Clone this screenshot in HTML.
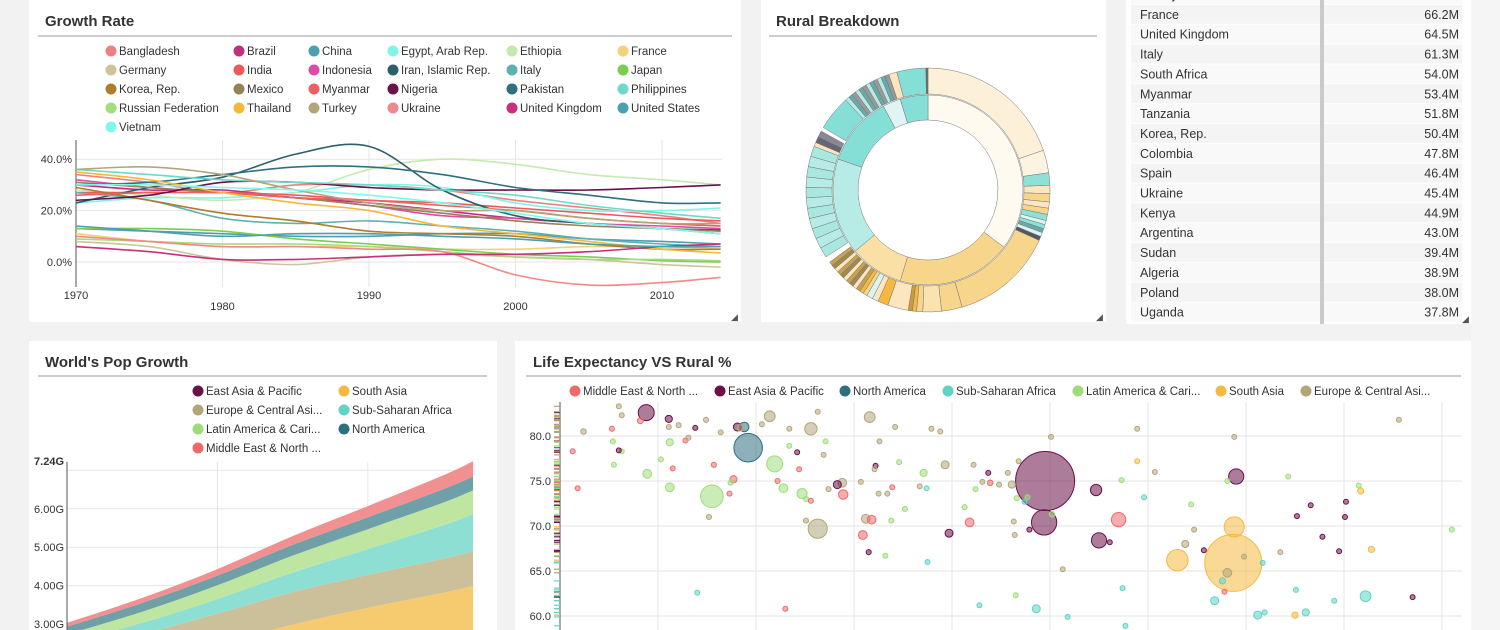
<!DOCTYPE html>
<html><head><meta charset="utf-8">
<style>
html,body{margin:0;padding:0;background:#f2f2f2;overflow:hidden;width:1500px;height:630px;}
svg{display:block;font-family:"Liberation Sans",sans-serif;}
.title{font-size:15px;font-weight:bold;fill:#333;}
.lg{font-size:11.5px;fill:#333;}
.tk{font-size:11px;fill:#333;}
.tb{font-size:12.5px;fill:#333;}
</style></head>
<body>
<svg id="root" width="1500" height="630" viewBox="0 0 1500 630">
  <rect x="1471" y="0" width="29" height="630" fill="#f5f5f5"/>
  <rect x="29" y="0" width="712" height="322" fill="#fff"/>
  <rect x="761" y="0" width="345" height="322" fill="#fff"/>
  <rect x="1126" y="0" width="345" height="324" fill="#fff"/>
  <rect x="29" y="341" width="468" height="289" fill="#fff"/>
  <rect x="515" y="341" width="956" height="289" fill="#fff"/>

  <text x="45" y="26" class="title">Growth Rate</text>
  <rect x="38" y="35" width="694" height="2" fill="#ccc"/>
  <text x="776" y="26" class="title">Rural Breakdown</text>
  <rect x="769" y="35" width="328" height="2" fill="#ccc"/>
  <text x="45" y="367" class="title">World's Pop Growth</text>
  <rect x="38" y="375" width="449" height="2" fill="#ccc"/>
  <text x="533" y="367" class="title">Life Expectancy VS Rural %</text>
  <rect x="526" y="375" width="935" height="2" fill="#ccc"/>

  <text x="731" y="320" font-size="9" fill="#555">◢</text>
  <text x="1096" y="320" font-size="9" fill="#555">◢</text>
  <text x="1462" y="322" font-size="9" fill="#555">◢</text>

  <g id="growth"></g>
  <g id="donut"></g>
  <g id="table"></g>
  <g id="area"></g>
  <g id="scatter"></g>
  <defs>
    <clipPath id="gclip"><rect x="76" y="130" width="647" height="180"/></clipPath>
    <clipPath id="aclip"><rect x="67" y="455" width="410" height="175"/></clipPath>
    <clipPath id="sclip"><rect x="560" y="398" width="902" height="232"/></clipPath>
  </defs>
</svg>
<script>
// ---------- Growth Rate data ----------
const gYears=[1970,1975,1980,1985,1990,1995,2000,2005,2010,2014];
const gCountries=["Bangladesh","Brazil","China","Egypt, Arab Rep.","Ethiopia","France","Germany","India","Indonesia","Iran, Islamic Rep.","Italy","Japan","Korea, Rep.","Mexico","Myanmar","Nigeria","Pakistan","Philippines","Russian Federation","Thailand","Turkey","Ukraine","United Kingdom","United States","Vietnam"];
const gColors=["#f08080","#c0307e","#4a9fb0","#7ff5e8","#c4eab0","#f5cf7a","#cfc39a","#ec5a5a","#e04ba8","#2d5f6a","#5fb1b0","#7ccc50","#b07c30","#968158","#ee6060","#6b1048","#2f7080","#6fd8c8","#a3dc7d","#f5b83a","#b3a57a","#f08a8a","#c8307c","#4a9fb0","#7ff8ec"];
const gValues=[
 [34,31,27,30,30,28,24,21,18,15],
 [30,28,28,25,23,20,17,15,13,11],
 [13,12,11,10,10,11,11,9,8,7],
 [23,25,25,27,30,29,23,20,20,21],
 [28,26,24,27,36,40,38,34,32,30],
 [11,8,6,6,6,5,5,6,6,5],
 [8,6,1,-1,2,3,2,1,-1,-2],
 [27,27,27,26,24,23,21,19,17,16],
 [32,29,27,25,22,18,17,15,14,13],
 [23,29,33,42,45,28,18,15,13,12.5],
 [27,24,17,15,16,14,12,9,7,6],
 [13,13,12,9,7,5,3,2,0.5,0],
 [29,24,19,16,12,11,10,7,5,5],
 [31,29,27,25,22,19,16,14,13,12],
 [26,27,27,25,24,22,20,17,15,14],
 [24,26,31,31,29,28,28,28,29,30],
 [30,31,34,37,37,34,29,26,23,23],
 [36,34,32,31,30,28,26,22,19,17],
 [9,8,7,7,6,4,2,1,1,0.5],
 [35,32,27,23,20,14,11,8,5,3.5],
 [36,37,34,28,23,20,20,17,15,15],
 [10,8,6,6,5,4,-5,-9,-8,-6],
 [6,4,1,1,2,3,3,4,6,7],
 [14,12,10,11,11,10,9,7,6,6],
 [30,30,29,28,26,23,19,15,13,11]];
const gYTicks=[0,20,40];
const gXTicks=[1970,1980,1990,2000,2010];

// ---------- Donut data ----------
const innerDeg=[127,70,33,59,43,11,17];
const innerCol=["#fffaf0","#f7d58a","#fbe0a6","#b7ece6","#86dfd6","#e0f5f3","#86dfd6"];
const outerDeg=[72,11,6,4,4,3,3,3,2,2,2,2,2,50,10,9,3,2,2,10,5,3,3,2,2,2,2,2,2,2,2,2,2,2,2,3,5,5,5,5,5,5,5,5,5,5,5,2,3,3,2,17,2,2,2,2,2,2,2,2,2,2,2,2,4,14,1];
const outerCol=["#fdf0d8","#fdf3e1","#8fe0d7","#fbe6bf","#f7d58a","#fbe6bf","#f7d58a","#8fe0d7","#d9f5f2","#8fe0d7","#66aaaa","#d9f5f2","#555566","#f7d58a","#f7d58a","#fbe3b0","#f7d58a","#f5b942","#c89a40","#fbe6bf","#f5b942","#fbe6bf","#d9f5f2","#f7d58a","#f5b942","#c8a050","#fbe6bf","#a08850","#c8a050","#fbe6bf","#a08850","#c8a050","#fbe6bf","#a08850","#c8a050",null,"#a9e8e1","#b7ece6","#a9e8e1","#b7ece6","#a9e8e1","#b7ece6","#a9e8e1","#b7ece6","#a9e8e1","#b7ece6","#a9e8e1","#fbe6bf","#666677","#888899",null,"#86dfd6","#b7ece6","#66aaaa","#999999","#b7ece6","#66aaaa","#999999","#b7ece6","#66aaaa","#999999","#b7ece6","#66aaaa","#999999","#fbe6bf","#86dfd6","#666666"];

// ---------- Table data ----------
const tNames=["Turkey","France","United Kingdom","Italy","South Africa","Myanmar","Tanzania","Korea, Rep.","Colombia","Spain","Ukraine","Kenya","Argentina","Sudan","Algeria","Poland","Uganda"];
const tValues=["75.9M","66.2M","64.5M","61.3M","54.0M","53.4M","51.8M","50.4M","47.8M","46.4M","45.4M","44.9M","43.0M","39.4M","38.9M","38.0M","37.8M"];

// ---------- Area data ----------
const aYears=[1960,1970,1980,1990,2000,2010,2014];
const aRegions=["East Asia & Pacific","South Asia","Europe & Central Asi...","Sub-Saharan Africa","Latin America & Cari...","North America","Middle East & North ..."];
const aEAP=[1.04,1.29,1.57,1.85,2.03,2.19,2.27];
const aSA=[0.57,0.71,0.90,1.13,1.39,1.62,1.72];
const aECA=[0.67,0.74,0.80,0.85,0.86,0.89,0.90];
const aSSA=[0.23,0.29,0.38,0.51,0.67,0.87,0.97];
const aLAC=[0.22,0.29,0.36,0.44,0.52,0.59,0.62];
const aNA=[0.20,0.23,0.25,0.28,0.31,0.35,0.36];
const aMENA=[0.10,0.13,0.17,0.23,0.29,0.36,0.40];
const aYTicks=[3,4,5,6];

// ---------- Scatter data ----------
const sRegions=["Middle East & North ...","East Asia & Pacific","North America","Sub-Saharan Africa","Latin America & Cari...","South Asia","Europe & Central Asi..."];
const sRegionCodes=["MENA","EAP","NA","SSA","LAC","SA","ECA"];
const sRegion=["EAP","MENA","MENA","MENA","MENA","LAC","LAC","EAP","LAC","ECA","ECA","ECA","LAC","LAC","LAC","EAP","ECA","ECA","MENA","ECA","EAP","ECA","ECA","LAC","MENA","MENA","LAC","ECA","LAC","MENA","MENA","EAP","NA","ECA","NA","LAC","MENA","LAC","ECA","ECA","ECA","LAC","EAP","MENA","LAC","LAC","MENA","ECA","ECA","LAC","ECA","ECA","ECA","EAP","ECA","ECA","MENA","ECA","ECA","ECA","LAC","EAP","ECA","ECA","MENA","ECA","ECA","LAC","ECA","MENA","MENA","EAP","LAC","LAC","SSA","SSA","MENA","ECA","ECA","LAC","ECA","SSA","ECA","EAP","MENA","LAC","LAC","ECA","EAP","ECA","MENA","ECA","ECA","ECA","LAC","SSA","LAC","ECA","ECA","ECA","EAP","EAP","EAP","LAC","ECA","LAC","SSA","SSA","ECA","EAP","MENA","EAP","EAP","SSA","SSA","LAC","ECA","SSA","SA","ECA","LAC","ECA","ECA","SA","EAP","SA","SA","EAP","ECA","SSA","MENA","SSA","ECA","SSA","LAC","ECA","SSA","SSA","SA","SSA","SSA","ECA","EAP","EAP","EAP","EAP","EAP","EAP","SA","LAC","SA","SSA","SSA","EAP","ECA","LAC","LAC","SSA"];
const sRural=[8.8,8.2,5.3,1.3,1.8,5.5,5.4,6,6.3,2.4,6,6.3,8.9,11.2,11.2,11.1,11.1,12.1,12.8,13.1,13.8,14.9,16.4,10.3,11.5,15.7,15.5,15.2,17.4,17.3,17.7,18.1,18.8,18.4,19.2,21.9,22.2,22.8,21.4,20.6,23.4,23.4,24.2,24.4,24.7,25.1,25.6,25.6,26.3,27.1,26.9,26.3,25.1,28.3,28.8,27.4,28.9,31.6,34.2,32.6,34.6,32.2,32.1,30.7,33.9,32.5,33.4,35.2,31.2,31.8,30.9,31.5,33.2,33.8,37.5,14,23,37.9,38.8,37.1,39.3,37.4,36.7,39.7,41.8,41.3,42.4,42.2,43.7,43.1,43.9,44.8,45.7,46.1,46.6,47.4,47.7,46.8,46.3,46.4,47.9,49.5,49.4,50.2,50.1,46.5,48.6,51.8,51.3,54.7,57,55,56.1,57.4,57.7,57.3,60.7,59.6,58.9,58.9,64.4,64.7,63.8,63,65.7,68.7,68.8,69,68.1,67.6,67.8,66.8,69.8,71.7,68.1,68.8,71.2,71.9,75,76.1,75.1,73.5,77.8,75.2,76.6,80.2,80.1,79.5,81.7,81.5,82.8,82.2,79,87,85.6,91,74.3,42.8];
const sLife=[82.6,81.7,80.8,78.3,74.2,76.8,79.4,78.4,78.3,80.5,83.3,82.3,75.8,74.3,79.3,81.9,81,81.2,79.5,79.8,80.9,81.8,80.4,77.4,76.4,76.8,73.3,71,74.8,73.6,75.2,81,81,80.9,78.7,76.9,75,74.2,82.2,81.3,80.8,78.9,78.2,76.3,73.6,73,72.8,80.8,82.7,79.4,77.9,69.7,70.6,74.6,74.8,74.1,73.5,82.1,81,79.4,77.1,76.7,76.3,74.9,74.3,73.6,73.6,71.9,70.8,70.7,69,67.1,66.7,70.6,66,62.6,60.8,80.8,80.5,75.9,76.8,74.2,74.4,69.2,70.4,72.1,74.1,76.8,75.9,74.9,74.8,74.6,75.9,74.6,73.1,72.7,73.2,77.2,70.5,69,69.6,75,70.4,71.3,79.9,62.3,60.8,59.9,65.2,74,70.7,68.4,68.2,63.1,58.9,75.1,76,73.2,77.2,80.8,72.4,69.6,68,66.2,67.3,65.9,69.9,75.5,64.8,63.9,62.7,61.7,66.6,65.9,75,79.9,60.1,60.4,60.1,60.4,62.9,67.1,68.8,71.1,72.3,72.7,71,67.2,73.9,74.5,67.4,62.2,61.7,62.1,81.8,69.6,75.5,61.2];
const sPop=[100,14,6,6,6,5,2,2,3,12,1,1,30,30,20,20,1,10,4,4,4,10,5,1,3,10,200,1,2,8,20,25,35,15,318,100,5,30,45,2,8,8,1,4,40,8,2,60,6,3,6,143,6,25,30,4,35,45,5,2,3,1,1,4,8,2,2,4,30,30,30,2,5,1,1,2,2,2,5,20,25,1,2,25,30,6,2,3,1,2,12,3,3,20,3,2,6,2,8,8,2,1360,250,12,1,8,25,6,4,50,80,90,1,6,5,1,3,3,1,1,1,5,20,180,5,1270,158,90,30,15,8,25,2,1,1,1,25,2,15,20,6,6,1,1,1,1,8,1,15,1,15,45,2,2,1,1,1,3];
const sYTicks=[60,65,70,75,80];
const sXGrid=[10,20,30,40,50,60,70,80,90];

const NS='http://www.w3.org/2000/svg';
function mk(tag,attrs,parent){const e=document.createElementNS(NS,tag);for(const k in attrs)e.setAttribute(k,attrs[k]);parent.appendChild(e);return e;}
function smooth(pts){let d='M'+pts[0][0].toFixed(1)+','+pts[0][1].toFixed(1);
 for(let i=0;i<pts.length-1;i++){const p0=pts[Math.max(0,i-1)],p1=pts[i],p2=pts[i+1],p3=pts[Math.min(pts.length-1,i+2)];
  const c1=[p1[0]+(p2[0]-p0[0])/6,p1[1]+(p2[1]-p0[1])/6],c2=[p2[0]-(p3[0]-p1[0])/6,p2[1]-(p3[1]-p1[1])/6];
  d+='C'+c1.map(v=>v.toFixed(1))+' '+c2.map(v=>v.toFixed(1))+' '+p2.map(v=>v.toFixed(1));}
 return d;}

// ===== Growth rate chart =====
(function(){
 const g=document.getElementById('growth');
 const gx=y=>76+(y-1970)*14.65, gy=v=>262-v*2.57;
 gCountries.forEach((c,i)=>{const col=i%6,row=Math.floor(i/6);const x=[111,239,314,393,512,623][col],y=51+row*19;
  const it=mk('g',{},g);
  
  
  mk('circle',{cx:x,cy:y,r:5.5,fill:gColors[i]},it);
  const t=mk('text',{x:x+8,y:y+4,class:'lg'},it);t.textContent=c;});
 gXTicks.forEach((yr,i)=>{const x=gx(yr);
  const l=mk('line',{x1:x,x2:x,y1:140,y2:287,stroke:'#e6e6e6'},g);
  
  const t=mk('text',{x:x,y:i%2?310:299,'text-anchor':'middle',class:'tk'},g);t.textContent=yr;
  });
 gYTicks.forEach(v=>{const y=gy(v);
  const l=mk('line',{x1:76,x2:722,y1:y,y2:y,stroke:'#e6e6e6'},g);
  
  const t=mk('text',{x:72,y:y+4,'text-anchor':'end',class:'tk'},g);t.textContent=v.toFixed(1)+'%';
  });
 const ax=mk('line',{x1:76,x2:76,y1:140,y2:287,stroke:'#555'},g);
 
 const lg=mk('g',{'clip-path':'url(#gclip)'},g);
 gValues.forEach((vals,i)=>{const p=mk('path',{d:smooth(vals.map((v,j)=>[gx(gYears[j]),gy(v)])),fill:'none',stroke:gColors[i],'stroke-width':1.6},lg);
  
  });
})();

// ===== Donut =====
(function(){
 const g=document.getElementById('donut');const cx=928,cy=190;
 function arc(r0,r1,a0,a1){const rad=a=>(a-90)*Math.PI/180;const p=(r,a)=>[cx+r*Math.cos(rad(a)),cy+r*Math.sin(rad(a))];
  const L=(a1-a0)>180?1:0;const A=p(r1,a0),B=p(r1,a1),C=p(r0,a1),D=p(r0,a0);
  return `M${A}A${r1},${r1} 0 ${L} 1 ${B}L${C}A${r0},${r0} 0 ${L} 0 ${D}Z`;}
 function ring(degs,cols,r0,r1,name){const tot=degs.reduce((a,b)=>a+b,0);let a=0;
  degs.forEach((d,i)=>{const s=d*360/tot;if(cols[i]){const p=mk('path',{d:arc(r0,r1,a,a+s),fill:cols[i],stroke:'#777','stroke-width':0.5},g);
   }a+=s;});}
 ring(innerDeg,innerCol,70,95,'inner-ring');
 ring(outerDeg,outerCol,96,122,'outer-ring');
})();

// ===== Table =====
(function(){
 const g=document.getElementById('table');
 tNames.forEach((n,i)=>{const top=-15+i*19.85;
  const r=mk('g',{},g);
  
  
  mk('rect',{x:1131,y:top,width:331,height:19,fill:i%2?'#f4f4f4':'#f9f9f9'},r);
  const t=mk('text',{x:1140,y:top+14,class:'tb'},r);t.textContent=n;
  const v=mk('text',{x:1459,y:top+14,class:'tb','text-anchor':'end'},r);v.textContent=tValues[i];});
 const d=mk('rect',{x:1320,y:0,width:4,height:324,fill:'#cacaca'},g);
 
})();

// ===== Area chart =====
(function(){
 const g=document.getElementById('area');
 const ax=y=>67+(y-1960)*7.52, ay=v=>624-(v-3)*38.4;
 const legX=[198,344];
 const legCols=["#6b1048","#f5b942","#b3a57a","#5fd3c6","#9edc7a","#2f7080","#ee6a6a"];
 const order=[0,1,2,3,4,5,6];
 order.forEach((k,i)=>{const x=legX[i%2],y=391+Math.floor(i/2)*19;
  const it=mk('g',{},g);
  
  mk('circle',{cx:x,cy:y,r:5.5,fill:legCols[k]},it);
  const t=mk('text',{x:x+8,y:y+4,class:'lg'},it);t.textContent=aRegions[k];});
 [1980,2000].forEach(yr=>{const l=mk('line',{x1:ax(yr),x2:ax(yr),y1:462,y2:630,stroke:'#e6e6e6'},g);
  });
 aYTicks.concat([7]).forEach(v=>{const l=mk('line',{x1:67,x2:473,y1:ay(v),y2:ay(v),stroke:'#e6e6e6'},g);
  });
 aYTicks.forEach(v=>{const t=mk('text',{x:64,y:ay(v)+4,'text-anchor':'end',class:'tk'},g);t.textContent=v.toFixed(2)+'G';
  });
 const series=[aEAP,aSA,aECA,aSSA,aLAC,aNA,aMENA];
 const fills=["#a86a8e","#f6cb70","#ccc09a","#8ddfd4","#bfe6a0","#6fa0a8","#f09090"];
 const total=aYears.map((_,j)=>series.reduce((s,a)=>s+a[j],0));
 const top=mk('text',{x:64,y:ay(total[total.length-1])+4,'text-anchor':'end',class:'tk','font-weight':'bold'},g);
 top.textContent=total[total.length-1].toFixed(2)+'G';
 
 const cg=mk('g',{'clip-path':'url(#aclip)'},g);
 let base=aYears.map(()=>0);
 series.forEach((s,i)=>{const up=base.map((b,j)=>b+s[j]);
  const upPts=aYears.map((y,j)=>[ax(y),ay(up[j])]);const loPts=aYears.map((y,j)=>[ax(y),ay(base[j])]).reverse();
  const d=smooth(upPts)+'L'+smooth(loPts).slice(1)+'Z';
  const p=mk('path',{d:d,fill:fills[i]},cg);
  
  
  base=up;});
 const yl=mk('line',{x1:67,x2:67,y1:462,y2:630,stroke:'#555'},g);
 
})();

// ===== Scatter =====
(function(){
 const g=document.getElementById('scatter');
 const sx=v=>560+v*9.8, sy=v=>436-(v-80)*9;
 const col={MENA:"#ee6a6a",EAP:"#6b1048",NA:"#2f7080",SSA:"#5fd3c6",LAC:"#9edc7a",SA:"#f5b942",ECA:"#b3a57a"};
 const legX=[575,720,845,948,1078,1221,1306];
 sRegions.forEach((r,i)=>{const it=mk('g',{},g);
  
  mk('circle',{cx:legX[i],cy:391,r:5.5,fill:col[sRegionCodes[i]]},it);
  const t=mk('text',{x:legX[i]+8,y:395,class:'lg'},it);t.textContent=r;});
 sXGrid.forEach(v=>{const l=mk('line',{x1:sx(v),x2:sx(v),y1:402,y2:630,stroke:'#e6e6e6'},g);
  });
 sYTicks.forEach(v=>{const l=mk('line',{x1:560,x2:1462,y1:sy(v),y2:sy(v),stroke:'#e3e3e3'},g);
  
  const t=mk('text',{x:551,y:sy(v)+4,'text-anchor':'end',class:'tk'},g);t.textContent=v.toFixed(1);
  });
 const yl=mk('line',{x1:560,x2:560,y1:402,y2:630,stroke:'#555'},g);
 
 sLife.forEach((v,i)=>{const y=sy(v);if(y<402)return;
  const l=mk('line',{x1:554,x2:560,y1:y,y2:y,stroke:col[sRegion[i]],'stroke-width':1.2},g);
  });
 const cg=mk('g',{'clip-path':'url(#sclip)'},g);
 const idx=sPop.map((p,i)=>i).sort((a,b)=>sPop[b]-sPop[a]);
 idx.forEach(i=>{const c=col[sRegion[i]];const r=Math.max(2.5,0.8*Math.sqrt(sPop[i]));
  const b=mk('circle',{cx:sx(sRural[i]),cy:sy(sLife[i]),r:r,fill:c,'fill-opacity':0.55,stroke:c,'stroke-width':1},cg);
  
  });
})();
</script>
</body></html>
